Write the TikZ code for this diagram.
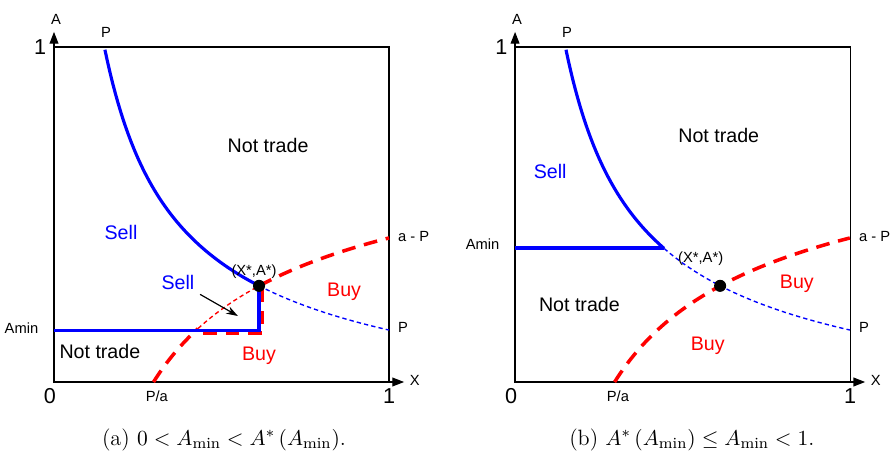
\documentclass[tikz,border=0pt]{standalone}
\usepackage{fontspec}
\newfontfamily\arialfont{Liberation Sans}
\usetikzlibrary{arrows.meta}
\definecolor{sellblue}{RGB}{0,0,255}
\definecolor{buyred}{RGB}{255,0,0}

% box, axes and the labels both panels share
\newcommand{\panelframe}{%
  \coordinate (O) at (0,0);
  \coordinate (xend) at (1.045,0);
  \coordinate (yend) at (0,1.045);
  \draw[frame] (O) rectangle (1,1);
  \draw[axis] (O) -- (xend);
  \draw[axis] (O) -- (yend);
  \node[tick, anchor=north] (zero) at (-0.012,-0.018) {0};
  \node[tick, anchor=north] (xone) at (1,-0.018) {1};
  \node[tick, anchor=east] (yone) at (-0.022,1) {1};
  \node[small, anchor=west] (xlab) at (1.055,0.005) {X};
  \node[small, anchor=south] (ylab) at (0.006,1.06) {A};
  \node[small, anchor=south] (ptop) at (0.155,1.02) {P};
  \node[small, anchor=north] (pa) at (0.307,-0.018) {P/a};
  \node[small, anchor=west] (amp) at (1.02,0.435) {a - P};
  \node[small, anchor=west] (pright) at (1.02,0.163) {P};
}

\begin{document}
\begin{tikzpicture}[
    frame/.style={draw=black, line width=0.6pt},
    axis/.style={line width=0.6pt, -{Triangle[length=6pt,width=4.5pt]}},
    sellline/.style={draw=sellblue, line width=1.6pt},
    sellthin/.style={draw=sellblue, line width=0.7pt, dash pattern=on 2.2pt off 1.6pt},
    buyline/.style={draw=buyred, line width=1.8pt, dash pattern=on 7pt off 4.5pt},
    buythin/.style={draw=buyred, line width=0.7pt, dash pattern=on 2.2pt off 1.6pt},
    pointer/.style={line width=0.6pt, -{Stealth[length=6pt,width=4pt]}},
    region/.style={font=\arialfont\fontsize{10}{12}\selectfont, inner sep=1pt},
    small/.style={font=\arialfont\fontsize{7.5}{9}\selectfont, inner sep=1pt},
    tick/.style={font=\arialfont\fontsize{11}{13}\selectfont, inner sep=0pt},
    caption/.style={font=\fontsize{11.3}{13}\selectfont}
  ]
  \useasboundingbox (0,0) rectangle (16.01,8.22);

  % (a) 0 < Amin < A*
  \begin{scope}[shift={(0.967cm,1.379cm)}, x=6cm, y=6cm, name prefix=a-]
    \panelframe
    \draw[buyline] plot[domain=0.297:0.43, samples=20] (\x, {0.945-0.515/sqrt(\x)});
    \draw[buythin] plot[domain=0.43:0.612, samples=30] (\x, {0.945-0.515/sqrt(\x)});
    \draw[buyline] plot[domain=0.612:1, samples=40] (\x, {0.945-0.515/sqrt(\x)});
    \draw[buyline] (0.445,0.146) -- (0.621,0.146) -- (0.621,0.287);
    \draw[sellline] plot[domain=0.152:0.612, samples=60] (\x, {-0.1966+0.3516*exp(-0.65*ln(\x))});
    \draw[sellthin] plot[domain=0.612:1, samples=40] (\x, {-0.1966+0.3516*exp(-0.65*ln(\x))});
    \coordinate (amin0) at (0,0.155);
    \coordinate (amin1) at (0.612,0.155);
    \coordinate (star) at (0.612,0.287);
    \draw[sellline] (amin0) -- (amin1) -- (star);
    \fill (star) circle (0.018);
    \node[small, anchor=east] (aminlab) at (-0.04,0.16) {Amin};
    \node[small] (starlab) at (0.597,0.329) {(X*,A*)};
    \node[region] (nt1) at (0.639,0.707) {Not trade};
    \node[region, text=sellblue] (sell1) at (0.2,0.445) {Sell};
    \node[region, text=sellblue] (sell2) at (0.37,0.296) {Sell};
    \node[region, text=buyred] (buy1) at (0.866,0.269) {Buy};
    \node[region, text=buyred] (buy2) at (0.612,0.078) {Buy};
    \node[region] (nt2) at (0.137,0.09) {Not trade};
    \coordinate (pointed) at (0.549,0.197);
    \draw[pointer, shorten <=2pt] (sell2.south east) -- (pointed);
  \end{scope}

  % (b) A* <= Amin < 1
  \begin{scope}[shift={(9.224cm,1.379cm)}, x=6cm, y=6cm, name prefix=b-]
    \panelframe
    \draw[buyline] plot[domain=0.297:1, samples=60] (\x, {0.945-0.515/sqrt(\x)});
    \draw[sellline] plot[domain=0.152:0.445, samples=60] (\x, {-0.1966+0.3516*exp(-0.65*ln(\x))});
    \draw[sellthin] plot[domain=0.445:1, samples=50] (\x, {-0.1966+0.3516*exp(-0.65*ln(\x))});
    \coordinate (amin0) at (0,0.4);
    \coordinate (amin1) at (0.445,0.4);
    \coordinate (star) at (0.612,0.287);
    \draw[sellline] (amin0) -- (amin1);
    \fill (star) circle (0.018);
    \node[small, anchor=east] (aminlab) at (-0.04,0.41) {Amin};
    \node[small] (starlab) at (0.554,0.367) {(X*,A*)};
    \node[region] (nt1) at (0.608,0.737) {Not trade};
    \node[region, text=sellblue] (sell1) at (0.105,0.627) {Sell};
    \node[region, text=buyred] (buy1) at (0.841,0.293) {Buy};
    \node[region] (nt2) at (0.192,0.23) {Not trade};
    \node[region, text=buyred] (buy2) at (0.575,0.107) {Buy};
  \end{scope}

  \node[caption] (capa) at (4.012,0.34) {(a) $0<A_{\min}<A^{*}\left(A_{\min}\right)$.};
  \node[caption] (capb) at (12.39,0.34) {(b) $A^{*}\left(A_{\min}\right)\leq A_{\min}<1$.};
\end{tikzpicture}
\end{document}
